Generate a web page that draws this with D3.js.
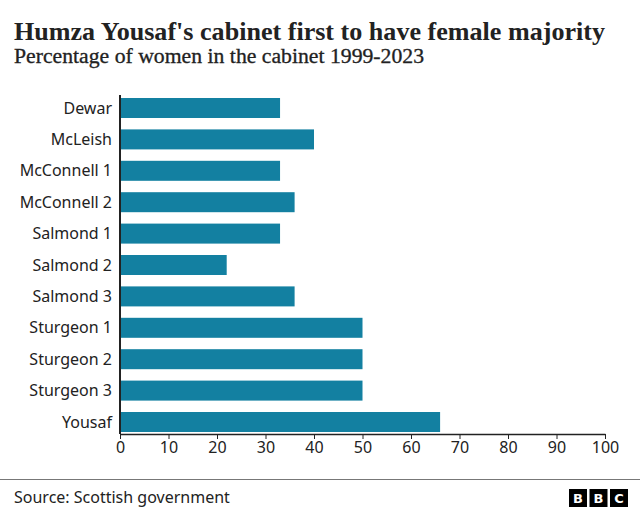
<!DOCTYPE html>
<html><head><meta charset="utf-8">
<script src="https://cdn.jsdelivr.net/npm/d3@7"></script>
<style>body{margin:0;background:#fff}svg{display:block}</style>
</head><body>
<script>
const categories = ["Dewar","McLeish","McConnell 1","McConnell 2","Salmond 1","Salmond 2","Salmond 3","Sturgeon 1","Sturgeon 2","Sturgeon 3","Yousaf"];
const values = [33,40,33,36,33,22,36,50,50,50,66];
const tickValues = [0,10,20,30,40,50,60,70,80,90,100];
const title = "Humza Yousaf's cabinet first to have female majority";
const subtitle = "Percentage of women in the cabinet 1999-2023";
const source = "Source: Scottish government";

const W = 640, H = 515;
const svg = d3.select("body").append("svg").attr("width", W).attr("height", H);
const sans = "'Noto Sans', 'Open Sans', sans-serif";
const serif = "'Liberation Serif', 'DejaVu Serif', serif";

svg.append("text").attr("x", 14).attr("y", 40).text(title)
  .attr("font-family", serif).attr("font-weight", "bold").attr("font-size", 26)
  .attr("fill", "#222").attr("textLength", 591).attr("lengthAdjust", "spacingAndGlyphs");
svg.append("text").attr("x", 14).attr("y", 63).text(subtitle)
  .attr("font-family", serif).attr("font-size", 20).attr("stroke", "#222").attr("stroke-width", 0.3)
  .attr("fill", "#222").attr("textLength", 410).attr("lengthAdjust", "spacingAndGlyphs");

const x = d3.scaleLinear().domain([0, 100]).range([120, 605]);
const y = d3.scaleBand().domain(categories).range([92.3, 437.7]).paddingInner(0.363).paddingOuter(0.1815);

svg.append("g").selectAll("rect").data(values).join("rect")
  .attr("x", x(0)).attr("y", (d, i) => y(categories[i]))
  .attr("width", d => x(d) - x(0)).attr("height", y.bandwidth())
  .attr("fill", "#1380A1");

// category labels
svg.append("g").selectAll("text").data(categories).join("text")
  .attr("x", 112).attr("y", d => y(d) + y.bandwidth() / 2).attr("dy", "0.35em")
  .attr("text-anchor", "end").attr("font-family", sans).attr("font-size", 16)
  .attr("fill", "#222").text(d => d);

// vertical axis line
svg.append("line").attr("x1", 120).attr("x2", 120).attr("y1", 95).attr("y2", 434)
  .attr("stroke", "#222").attr("stroke-width", 2);

// x axis
const xAxis = d3.axisBottom(x).tickValues(tickValues).tickSize(5).tickSizeOuter(0).tickPadding(3);
const gx = svg.append("g").attr("transform", "translate(0,434)").call(xAxis);
gx.select(".domain").attr("stroke", "#222").attr("stroke-width", 1.5);
gx.selectAll(".tick line").attr("stroke", "#222");
gx.selectAll("text").attr("font-family", sans).attr("font-size", 16).attr("fill", "#222");

// footer
svg.append("line").attr("x1", 0).attr("x2", W).attr("y1", 479.5).attr("y2", 479.5)
  .attr("stroke", "#777").attr("stroke-width", 1);
svg.append("text").attr("x", 14).attr("y", 503).text(source)
  .attr("font-family", sans).attr("font-size", 16).attr("fill", "#222");

const logo = svg.append("g");
["B","B","C"].forEach((c, i) => {
  const lx = 569 + i * 20.5;
  logo.append("rect").attr("x", lx).attr("y", 489).attr("width", 18).attr("height", 18).attr("fill", "#000");
  logo.append("text").attr("x", lx + 9).attr("y", 503).attr("text-anchor", "middle")
    .attr("font-family", "'DejaVu Sans', sans-serif").attr("font-weight", "bold").attr("font-size", 13)
    .attr("fill", "#fff").text(c);
});
</script>
</body></html>
